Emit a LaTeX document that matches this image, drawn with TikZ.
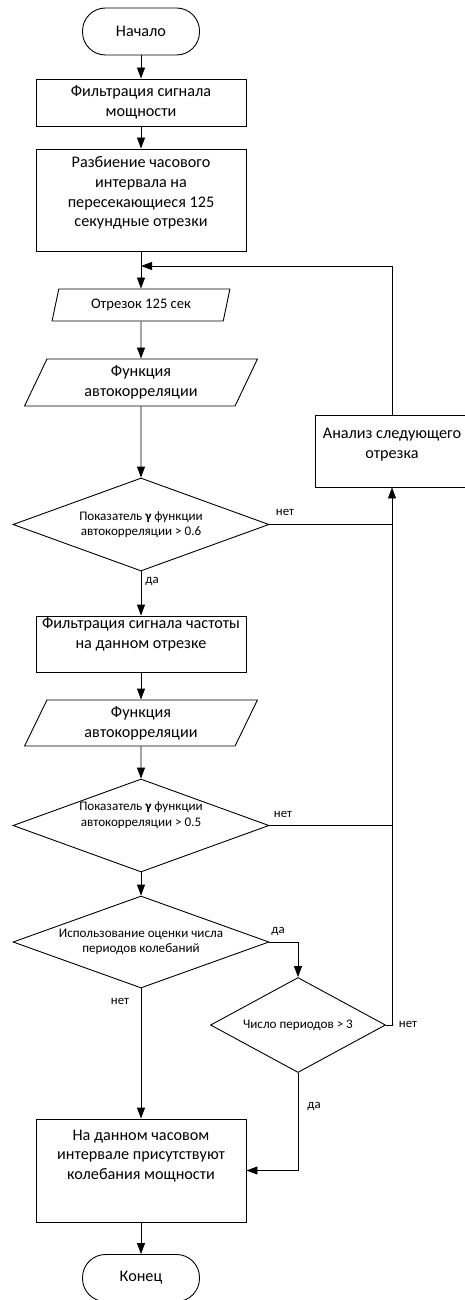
\documentclass[tikz,border=0pt]{standalone}
\usepackage{fontspec}
\setmainfont{Carlito}
\usetikzlibrary{shapes.geometric}
\usetikzlibrary{arrows.meta}
\usetikzlibrary{calc}

\begin{document}
\begin{tikzpicture}[x = 1pt, y = -1pt, line width = 0.9pt,
  base/.style = {draw, inner sep = 0pt, align = center,
    font = \fontsize{16.2}{19.8}\selectfont},
  term/.style = {base, rectangle, rounded corners = 23pt,
    minimum width = 117pt, minimum height = 47pt},
  proc/.style = {base, rectangle, minimum width = 210pt},
  io/.style = {base, trapezium, trapezium stretches = true},
  decide/.style = {base, diamond, aspect = 2.75,
    font = \fontsize{13.1}{15.5}\selectfont},
  txt/.style = {align = center, inner sep = 0pt,
    font = \fontsize{16.2}{19.8}\selectfont},
  lbl/.style = {inner sep = 0pt, font = \fontsize{12.8}{15}\selectfont},
  arr/.style = {-{Triangle[length = 11pt, width = 8pt]}}]

  \useasboundingbox (0, 0) rectangle (465, 1300);

  % main column
  \node[term] (start) at (141, 31.5) {Начало};
  \node[proc, minimum height = 47pt] (filp) at (141, 102.5)
  {Фильтрация сигнала\\мощности};
  \node[proc, minimum height = 102pt] (split) at (141, 200) {};
  \node[txt] (splitt) at (141, 193)
  {Разбиение часового\\интервала на\\пересекающиеся 125\\секундные отрезки};
  \coordinate (join) at (141, 266);

  \node[io, minimum width = 178pt, minimum height = 32pt,
    trapezium left angle = 71, trapezium right angle = 109,
    font = \fontsize{14.6}{16}\selectfont] (seg) at (141, 305)
  {Отрезок 125 сек};
  \node[io, minimum width = 233pt, minimum height = 47pt,
    trapezium left angle = 68, trapezium right angle = 112] (acf1)
  at (141, 382.5) {Функция\\автокорреляции};

  \node[decide, minimum width = 256pt, minimum height = 93pt] (dec1)
  at (141, 524.5) {Показатель {\bfseries γ} функции\\автокорреляции > 0.6};

  \node[proc, minimum height = 56pt] (filf) at (141, 644) {};
  \node[txt] (filft) at (141, 634)
  {Фильтрация сигнала частоты\\на данном отрезке};

  \node[io, minimum width = 233pt, minimum height = 46pt,
    trapezium left angle = 68, trapezium right angle = 112] (acf2)
  at (141, 723) {Функция\\автокорреляции};

  \node[decide, minimum width = 256pt, minimum height = 93pt] (dec2)
  at (141, 825.5) {Показатель {\bfseries γ} функции\\автокорреляции > 0.5\\[7pt]};
  \node[decide, minimum width = 256pt, minimum height = 92pt] (dec3)
  at (141, 942) {Использование оценки числа\\периодов колебаний};
  \node[decide, aspect = 1.84, minimum width = 175pt, minimum height = 95pt]
  (dec4) at (298, 1025) {Число периодов > 3};

  \node[proc, minimum height = 103pt] (res) at (141, 1170.5) {};
  \node[txt] (rest) at (141, 1156)
  {На данном часовом\\интервале присутствуют\\колебания мощности};
  \node[term] (stop) at (141, 1278) {Конец};

  % loop box
  \node[proc, minimum width = 154pt, minimum height = 72pt] (next)
  at (392, 451) {};
  \node[txt] (nextt) at (392, 445) {Анализ следующего\\отрезка};

  % connectors
  \draw[arr] (start) -- (filp);
  \draw[arr] (filp) -- (split);
  \draw[arr] (split) -- (seg);
  \draw[arr] (next.north) |- (join);
  \draw[arr] (seg) -- (acf1);
  \draw[arr] (acf1) -- (dec1);
  \draw[arr] (dec1) -- (filf);
  \draw[arr] (filf) -- (acf2);
  \draw[arr] (acf2) -- (dec2);
  \draw[arr] (dec2) -- (dec3);
  \draw[arr] (dec3.south) -- (res);
  \draw[arr] (res) -- (stop);

  \draw (dec1.east) -- (dec1.east -| next.south);
  \draw (dec2.east) -- (dec2.east -| next.south);
  \draw[arr] (dec4.east) -| (next.south);
  \draw[arr] (dec3.east) -| (dec4.north);
  \draw[arr] (dec4.south) |- (res.east);

  % labels
  \node[lbl] (no1) at (285, 512) {нет};
  \node[lbl] (yes1) at (152, 581) {да};
  \node[lbl] (no2) at (283, 814) {нет};
  \node[lbl] (yes3) at (278, 931) {да};
  \node[lbl] (no3) at (120, 1001) {нет};
  \node[lbl] (no4) at (408, 1024) {нет};
  \node[lbl] (yes4) at (314, 1106) {да};
\end{tikzpicture}
\end{document}
